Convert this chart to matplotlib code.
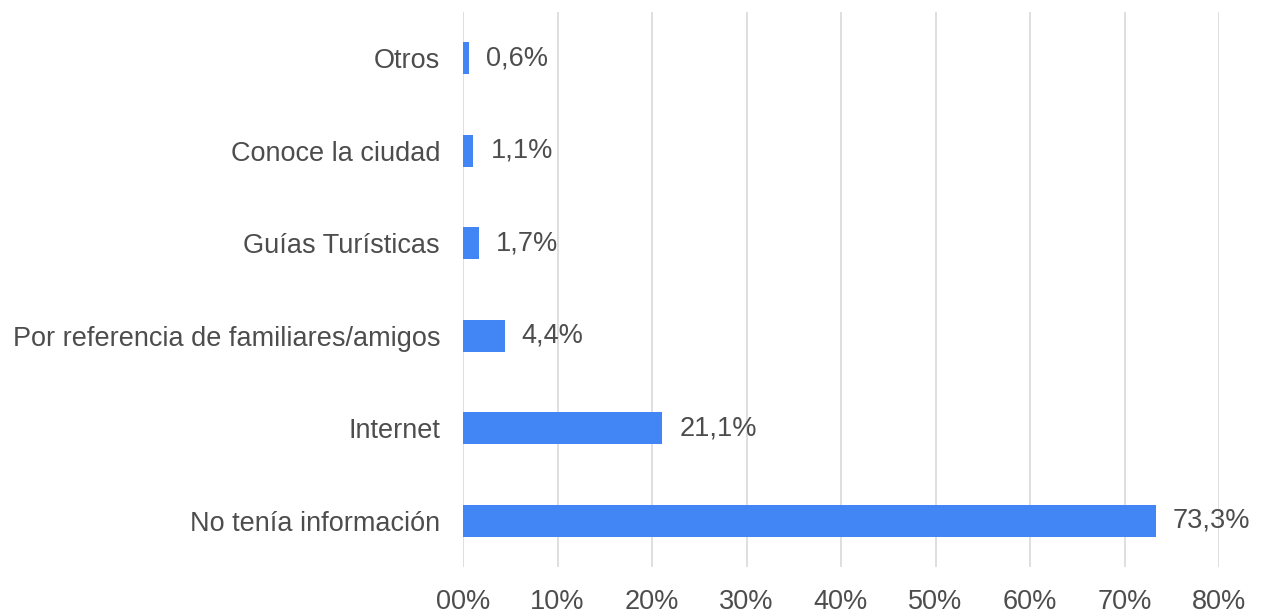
import matplotlib.pyplot as plt

categorias = ["No tenía información", "Internet", "Por referencia de familiares/amigos",
              "Guías Turísticas", "Conoce la ciudad", "Otros"]
valores = [73.3, 21.1, 4.4, 1.7, 1.1, 0.6]
etiquetas = ["73,3%", "21,1%", "4,4%", "1,7%", "1,1%", "0,6%"]
ticks = [0, 10, 20, 30, 40, 50, 60, 70, 80]
tick_labels = ["00%", "10%", "20%", "30%", "40%", "50%", "60%", "70%", "80%"]

plt.rcParams['font.family'] = ['Liberation Sans', 'DejaVu Sans']
gris = "#4d4d4d"

fig = plt.figure(figsize=(12.63, 6.13), dpi=100)
ax = fig.add_axes([463 / 1263, 1 - 567 / 613, (1219 - 463) / 1263, 555 / 613])

ax.barh(range(len(categorias)), valores, height=0.35, color="#4285F4", zorder=3)
for i, (v, t) in enumerate(zip(valores, etiquetas)):
    ax.text(v + 1.8, i, t, va="center", ha="left", fontsize=19.5, color=gris)

ax.set_xlim(0, 80)
ax.set_ylim(-0.5, 5.5)
ax.set_yticks(range(len(categorias)))
ax.set_yticklabels(categorias, fontsize=19.5, color=gris)
ax.set_xticks(ticks)
ax.set_xticklabels(tick_labels, fontsize=19.5, color=gris)
ax.tick_params(axis="both", length=0)
ax.tick_params(axis="y", pad=16.5)
ax.tick_params(axis="x", pad=16)
ax.grid(axis="x", color="#d9d9d9", linewidth=1.2, zorder=0)
for s in ax.spines.values():
    s.set_visible(False)

fig.savefig("out.png", dpi=100)
